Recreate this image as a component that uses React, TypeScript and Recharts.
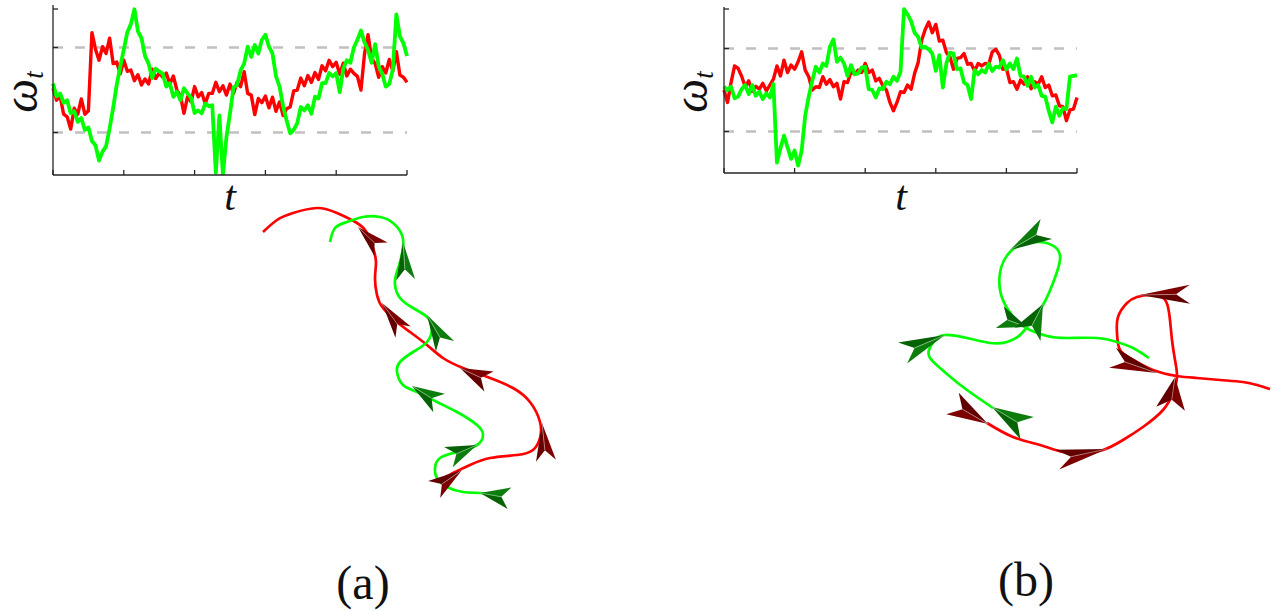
import React from 'react'
import { LineChart, Line, XAxis, YAxis, ReferenceLine, ComposedChart, Scatter } from 'recharts'

// omega_t traces, 101 samples over t = 0..100
const redA = [
  0.04, -0.24, -0.14, -0.57, -0.63, -0.92, -0.43, -0.57, -0.21, -0.57,
  -0.49, 1.35, 0.96, 0.70, 1.02, 0.86, 1.22, 0.62, 0.66, 0.38,
  0.70, 0.44, 0.47, 0.22, 0.36, 0.12, 0.26, 0.14, 0.49, 0.27,
  0.40, 0.30, 0.40, 0.14, 0.33, 0.00, -0.14, -0.55, -0.16, -0.28,
  0.08, -0.16, -0.06, -0.32, -0.08, -0.08, 0.18, -0.04, 0.10, -0.12,
  0.14, -0.08, 0.18, 0.08, 0.43, -0.08, -0.12, -0.58, -0.20, -0.30,
  -0.14, -0.42, -0.17, -0.50, -0.28, -0.60, -0.44, -0.40, -0.02, 0.00,
  0.28, 0.10, 0.34, 0.18, 0.41, 0.25, 0.57, 0.45, 0.70, 0.55,
  0.65, 0.37, 0.63, 0.33, 0.49, 0.39, 0.32, 0.00, 0.85, 1.30,
  0.75, 0.62, 0.30, 0.55, 0.40, 0.72, 0.45, 0.90, 0.35, 0.30,
  0.18,
]
const greenA = [
  0.15, -0.15, -0.08, -0.30, -0.24, -0.55, -0.50, -0.75, -0.66, -0.94,
  -0.88, -1.20, -1.30, -1.66, -1.45, -1.32, -0.90, -0.42, 0.12, 0.55,
  0.95, 1.36, 1.55, 1.90, 1.38, 1.22, 0.80, 0.62, 0.28, 0.50,
  0.44, 0.38, 0.08, 0.16, -0.16, -0.04, -0.24, 0.04, -0.08, -0.18,
  -0.54, -0.48, -0.55, -0.32, -0.38, -0.36, -1.95, -0.60, -2.00, -1.10,
  -0.55, 0.06, 0.12, 0.46, 0.62, 1.02, 0.78, 1.06, 0.86, 1.18,
  1.30, 1.02, 0.86, 0.32, 0.08, -0.38, -0.72, -1.02, -0.94, -0.78,
  -0.40, -0.48, -0.36, -0.56, -0.16, -0.20, 0.16, 0.16, 0.40, 0.32,
  0.40, -0.05, 0.50, 0.70, 0.64, 1.00, 1.18, 1.40, 1.12, 0.94,
  0.64, 1.08, 0.56, 0.38, 0.08, 0.14, 0.48, 1.78, 1.26, 1.10,
  0.80,
]
const redB = [
  0.00, -0.30, 0.18, 0.58, 0.52, 0.33, 0.08, 0.22, -0.03, 0.09,
  0.02, 0.16, -0.02, 0.12, 0.26, 0.58, 0.34, 0.72, 0.42, 0.60,
  0.50, 0.68, 0.92, 0.48, 0.32, 0.00, 0.08, 0.06, 0.32, 0.14,
  0.25, 0.08, 0.16, -0.22, 0.20, 0.18, 0.44, 0.38, 0.48, 0.42,
  0.64, 0.42, 0.48, 0.22, 0.28, 0.10, 0.00, -0.30, -0.50, -0.30,
  -0.04, -0.06, 0.12, 0.02, 0.40, 0.66, 1.20, 1.46, 1.64, 1.38,
  1.58, 1.18, 1.20, 0.90, 0.80, 0.50, 0.76, 0.78, 0.88, 0.62,
  0.64, 0.46, 0.64, 0.58, 0.64, 0.62, 0.92, 0.98, 0.84, 0.50,
  0.52, 0.18, 0.20, 0.02, 0.24, 0.14, 0.32, 0.03, 0.20, 0.14,
  0.32, 0.06, 0.12, -0.14, -0.12, -0.38, -0.40, -0.74, -0.48, -0.46,
  -0.18,
]
const greenB = [
  0.08, 0.00, 0.08, -0.20, -0.16, 0.02, 0.12, -0.10, 0.12, -0.14,
  -0.04, -0.22, -0.08, -0.18, 0.14, -1.75, -1.40, -1.10, -1.38, -1.66,
  -1.46, -1.82, -1.46, -0.62, -0.16, 0.22, 0.56, 0.42, 0.64, 0.58,
  1.04, 1.22, 0.68, 0.78, 0.64, 0.34, 0.60, 0.38, 0.40, 0.54,
  0.56, 0.02, 0.00, -0.18, 0.04, 0.02, 0.20, 0.14, 0.32, 0.22,
  0.44, 1.95, 1.82, 1.66, 1.38, 1.28, 1.02, 1.04, 0.98, 0.88,
  0.46, 0.84, 0.06, 0.64, 0.90, 0.88, 0.50, 0.52, 0.18, 0.12,
  -0.22, 0.48, 0.38, 0.48, 0.42, 0.64, 0.46, 0.56, 0.54, 0.72,
  0.50, 0.64, 0.50, 0.76, 0.34, 0.32, 0.10, 0.32, 0.06, 0.12,
  -0.14, -0.16, -0.50, -0.78, -0.40, -0.62, -0.44, -0.46, 0.32, 0.34,
  0.36,
]
const xTicks = [0, 20, 40, 60, 80, 100]
const yTicks = [-2, -1, 1, 2]
const bands = [-1, 1]

// trajectories in the plane (panel units)
const redPathA = [
  [23, 283], [37, 295], [53, 302], [77, 307], [97, 302], [117, 292], [127, 282], [133, 267],
  [136, 253], [135, 237], [137, 220], [143, 207], [157, 193], [170, 183], [187, 170], [203, 157],
  [223, 147], [250, 137], [273, 127], [290, 113], [300, 93], [300, 77], [293, 65], [277, 60],
  [250, 57], [230, 50], [213, 42], [197, 33],
]
const greenPathA = [
  [90, 273], [95, 287], [107, 293], [123, 298], [140, 298], [153, 292], [162, 280], [163, 267],
  [160, 253], [156, 240], [155, 230], [160, 217], [173, 207], [187, 198], [192, 187], [187, 173],
  [173, 163], [160, 153], [157, 143], [163, 130], [177, 123], [197, 113], [217, 103], [237, 90],
  [243, 80], [237, 70], [217, 63], [200, 57], [195, 47], [197, 37], [207, 28], [223, 23],
  [240, 22], [257, 20],
]
const redArrowsA = [
  { x: 118, y: 288, heading: 136, len: 32, span: 19 },
  { x: 142, y: 212, heading: 126, len: 36, span: 19 },
  { x: 220, y: 147, heading: 155, len: 32, span: 22 },
  { x: 302, y: 92, heading: 96, len: 38, span: 20 },
  { x: 222, y: 45, heading: 35, len: 34, span: 21 },
]
const greenArrowsA = [
  { x: 163, y: 273, heading: 94, len: 38, span: 19 },
  { x: 187, y: 200, heading: 120, len: 36, span: 21 },
  { x: 172, y: 129, heading: 148, len: 32, span: 22 },
  { x: 237, y: 70, heading: 23, len: 31, span: 22 },
  { x: 240, y: 22, heading: 170, len: 30, span: 22 },
]
const redPathB = [
  [107, 57], [133, 43], [160, 35], [183, 28], [203, 27], [223, 30], [243, 40], [263, 53],
  [283, 70], [293, 87], [297, 103], [295, 120], [292, 140], [290, 160], [288, 173], [283, 182],
  [270, 185], [257, 183], [247, 177], [238, 163], [237, 147], [240, 130], [253, 120], [273, 110],
  [297, 104], [317, 102], [340, 100], [363, 98], [377, 95], [390, 91],
]
const greenPathB = [
  [113, 72], [83, 93], [60, 112], [50, 122], [49, 130], [55, 140], [65, 145], [87, 142],
  [110, 137], [127, 138], [140, 145], [150, 157], [163, 175], [173, 197], [180, 220], [175, 233],
  [160, 238], [143, 236], [130, 228], [121, 212], [120, 190], [127, 172], [138, 158], [150, 150],
  [167, 144], [187, 142], [217, 142], [237, 138], [253, 132], [269, 122],
]
const redArrowsB = [
  { x: 108, y: 56, heading: -30, len: 41, span: 25 },
  { x: 227, y: 31, heading: 12, len: 51, span: 20 },
  { x: 295, y: 103, heading: 82, len: 32, span: 29 },
  { x: 260, y: 185, heading: 181, len: 50, span: 19 },
  { x: 277, y: 107, heading: -19, len: 47, span: 21 },
]
const greenArrowsB = [
  { x: 112, y: 73, heading: 149, len: 41, span: 26 },
  { x: 65, y: 145, heading: 23, len: 46, span: 23 },
  { x: 147, y: 153, heading: -20, len: 29, span: 23 },
  { x: 163, y: 176, heading: 63, len: 34, span: 29 },
  { x: 130, y: 230, heading: 210, len: 42, span: 23 },
]

const RED = '#ff0000'
const GREEN = '#00ff00'
const AXIS = '#262626'
const serif = '"Liberation Serif", "DejaVu Serif", serif'

const toRows = (red: number[], green: number[]) => red.map((r, i) => ({ t: i, red: r, green: green[i] }))
const toPts = (p: number[][]) => p.map(([x, y]) => ({ x, y }))

function plane(dark: string, darker: string, glint: string) {
  return (props: any) => {
    const { cx, cy, payload } = props
    const a = (payload.heading * Math.PI) / 180
    const dx = Math.cos(a), dy = -Math.sin(a)
    const nx = -dy, ny = dx
    const h = payload.span / 2
    const bx = cx - payload.len * dx, by = cy - payload.len * dy
    const w1 = [bx + h * nx, by + h * ny]
    const w2 = [bx - h * nx, by - h * ny]
    const n = [cx - 0.72 * payload.len * dx, cy - 0.72 * payload.len * dy]
    return (
      <g>
        <polygon points={`${cx},${cy} ${w1} ${n}`} fill={dark} />
        <polygon points={`${cx},${cy} ${n} ${w2}`} fill={darker} />
        <line x1={cx} y1={cy} x2={n[0]} y2={n[1]} stroke={glint} strokeWidth={0.7} />
      </g>
    )
  }
}
const redPlane = plane('#7c0000', '#620000', '#c99a9a')
const greenPlane = plane('#0c7c0c', '#056205', '#9ad29a')

function Trace({ red, green, left, margin }: any) {
  const axisX = margin.left + 1
  const axisY = 180 - margin.bottom - 1
  // inward tick marks, MATLAB style
  const yTick = (p: any) => <line x1={axisX} x2={axisX + 5} y1={p.y} y2={p.y} stroke={AXIS} strokeWidth={1.3} />
  const xTick = (p: any) => <line x1={p.x} x2={p.x} y1={axisY} y2={axisY - 5} stroke={AXIS} strokeWidth={1.3} />
  return (
    <div style={{ position: 'absolute', left, top: 0 }}>
      <LineChart width={420} height={180} data={toRows(red, green)} margin={margin}>
        <XAxis dataKey="t" type="number" domain={[0, 100]} ticks={xTicks} height={1}
          tick={xTick} tickLine={false} stroke={AXIS} strokeWidth={1.3} />
        <YAxis type="number" domain={[-2, 2]} ticks={yTicks} width={1} allowDataOverflow
          tick={yTick} tickLine={false} stroke={AXIS} strokeWidth={1.3} />
        {bands.map((b) => (
          <ReferenceLine key={b} y={b} stroke="#c0c0c0" strokeWidth={2.6} strokeDasharray="10 12" />
        ))}
        <Line dataKey="red" type="linear" stroke={RED} strokeWidth={3.4} strokeLinejoin="round" dot={false} isAnimationActive={false} />
        <Line dataKey="green" type="linear" stroke={GREEN} strokeWidth={3.8} strokeLinejoin="round" dot={false} isAnimationActive={false} />
      </LineChart>
    </div>
  )
}

function Paths({ left, top, width, height, red, green, redArrows, greenArrows }: any) {
  return (
    <div style={{ position: 'absolute', left, top }}>
      <ComposedChart width={width} height={height} margin={{ top: 0, right: 0, bottom: 0, left: 0 }}>
        <XAxis dataKey="x" type="number" domain={[0, width]} hide allowDataOverflow />
        <YAxis dataKey="y" type="number" domain={[0, height]} hide allowDataOverflow />
        <Line data={toPts(red)} dataKey="y" type="natural" stroke={RED} strokeWidth={2.7} dot={false} isAnimationActive={false} />
        <Line data={toPts(green)} dataKey="y" type="natural" stroke={GREEN} strokeWidth={2.7} dot={false} isAnimationActive={false} />
        <Scatter data={redArrows} shape={redPlane} isAnimationActive={false} />
        <Scatter data={greenArrows} shape={greenPlane} isAnimationActive={false} />
      </ComposedChart>
    </div>
  )
}

function OmegaLabel({ x }: { x: number }) {
  return (
    <text transform={`translate(${x}, 92) rotate(-90)`} textAnchor="middle"
      fontFamily={serif} fontStyle="italic" fontSize={48} fill="#111">
      ω<tspan fontSize={27} dy={6}>t</tspan>
    </text>
  )
}

export default function App() {
  return (
    <div style={{ position: 'absolute', left: 0, top: 0, width: 1274, height: 611, background: '#fff', overflow: 'hidden' }}>
      <Trace red={redA} green={greenA} left={0} margin={{ top: 5, right: 13, bottom: 4, left: 52 }} />
      <Trace red={redB} green={greenB} left={670} margin={{ top: 7, right: 13, bottom: 6, left: 53 }} />
      <Paths left={240} top={195} width={320} height={320} red={redPathA} green={greenPathA}
        redArrows={redArrowsA} greenArrows={greenArrowsA} />
      <Paths left={880} top={210} width={394} height={270} red={redPathB} green={greenPathB}
        redArrows={redArrowsB} greenArrows={greenArrowsB} />
      <svg width={1274} height={611} style={{ position: 'absolute', left: 0, top: 0, pointerEvents: 'none' }}>
        <OmegaLabel x={37} />
        <OmegaLabel x={707} />
        <text x={230} y={210} textAnchor="middle" fontFamily={serif} fontStyle="italic" fontSize={42} fill="#111">t</text>
        <text x={901} y={210} textAnchor="middle" fontFamily={serif} fontStyle="italic" fontSize={42} fill="#111">t</text>
        <text x={363} y={599} textAnchor="middle" fontFamily={serif} fontSize={48} fill="#111">(a)</text>
        <text x={1026} y={596} textAnchor="middle" fontFamily={serif} fontSize={48} fill="#111">(b)</text>
      </svg>
    </div>
  )
}
